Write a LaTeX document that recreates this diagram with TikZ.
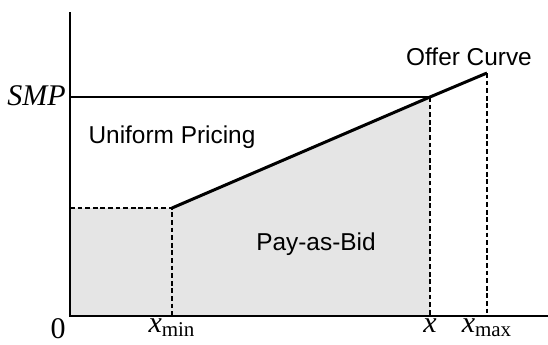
\documentclass[tikz,border=0pt]{standalone}
\usepackage{fontspec}
\setmainfont{Liberation Serif}
\setsansfont{Liberation Sans}
\usetikzlibrary{positioning}

\begin{document}
\begin{tikzpicture}[
      x=0.5pt, y=0.5pt,
      axis/.style={line width=1pt},
      curve/.style={line width=1.5pt},
      guide/.style={dash pattern=on 2.4pt off 1.4pt, line width=1pt},
      region/.style={fill=black!10},
      area/.style={font=\fontsize{12.2}{14}\sffamily},
      tick/.style={font=\fontsize{15}{17}\selectfont, inner sep=1pt},
    ]
      \useasboundingbox (-70,-28) rectangle (478,316);
      \coordinate (O) at (0,0);
      \coordinate (ytop) at (0,304);
      \coordinate (xend) at (478,0);
      \coordinate (low) at (0,108);
      \coordinate (kink) at (102,108);
      \coordinate (clear) at (360,219);
      \coordinate (cap) at (417,243);
      \coordinate (smp) at (0,219);

      % shaded pay-as-bid area
      \fill[region] (O) -- (low) -- (kink) -- (clear) -- (O -| clear) -- cycle;

      \draw[guide] (low) -- (kink) -- (O -| kink);
      \draw[guide] (clear) -- (O -| clear);
      \draw[guide] (cap) -- (O -| cap);
      \draw[axis] (smp) -- (clear);
      \draw[curve] (kink) -- (clear) -- (cap);
      \draw[axis] (ytop) -- (O) -- (xend);

      \node[tick, anchor=east] (smplbl) at (-2,220) {\textit{SMP}};
      \node[tick, anchor=north east] (zero) at (-2,0) {0};
      \node[tick, anchor=north] (xmin) at (O -| kink) {\textit{x}\textsubscript{min}};
      \node[tick, anchor=north] (xq) at (O -| clear) {\textit{x}};
      \node[tick, anchor=north] (xmax) at (O -| cap) {\textit{x}\textsubscript{max}};

      \node[area] (uniform) at (102,179) {Uniform Pricing};
      \node[area] (payasbid) at (246,72) {Pay-as-Bid};
      \node[area] (offer) at (399,259) {Offer Curve};
\end{tikzpicture}
\end{document}
